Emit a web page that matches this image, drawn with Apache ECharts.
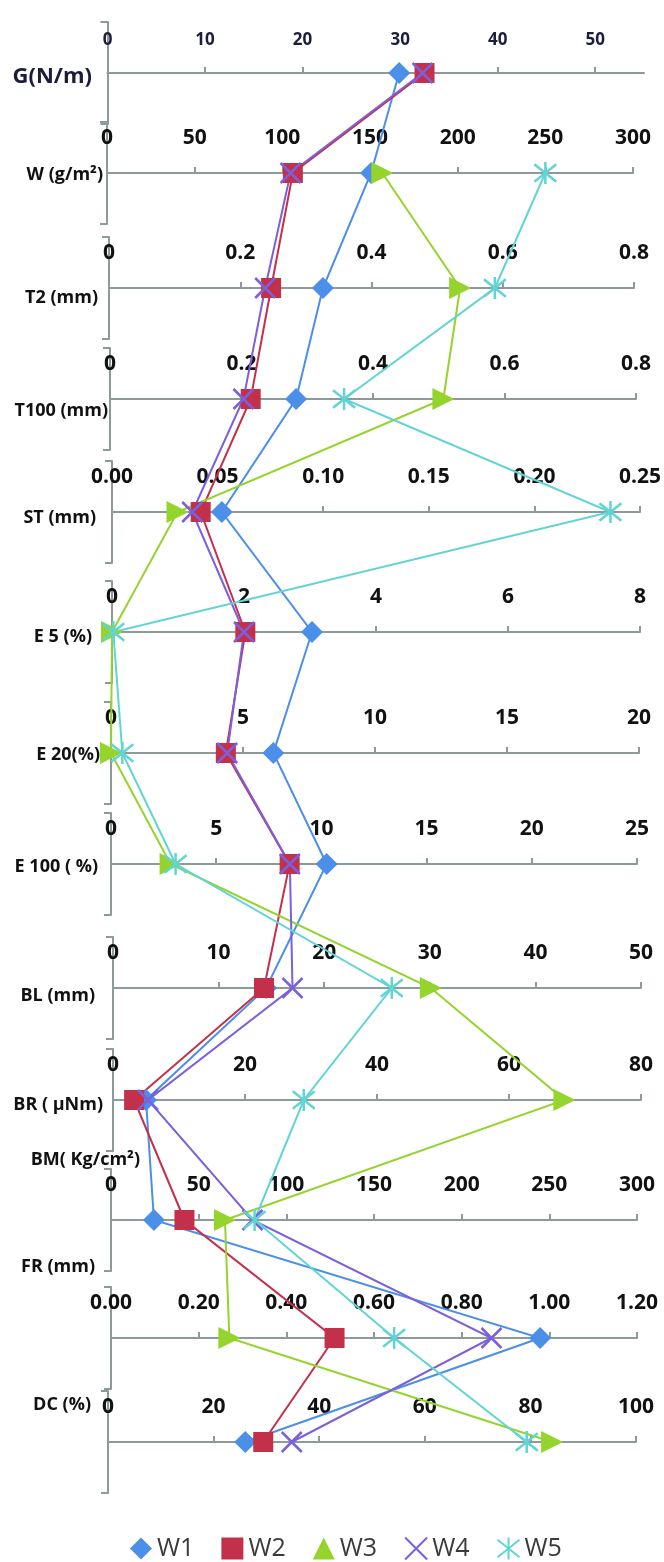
<!DOCTYPE html>
<html><head><meta charset="utf-8">
<script src="https://cdn.jsdelivr.net/npm/echarts@6/dist/echarts.min.js"></script>
<style>html,body{margin:0;padding:0;background:#fff}#c{width:664px;height:1562px}</style>
</head><body><div id="c"></div>
<script>
// ---- data ----
const rowNames = ['G(N/m)','W (g/m²)','T2 (mm)','T100 (mm)','ST (mm)','E 5 (%)','E 20(%)','E 100 ( %)','BL (mm)','BR ( µNm)','BM( Kg/cm²)','FR (mm)','DC (%)'];
const axisMax  = [55, 300, 0.8, 0.8, 0.25, 8, 20, 25, 50, 80, 300, 1.2, 100];
const axisStep = [10, 50, 0.2, 0.2, 0.05, 2, 5, 5, 10, 20, 50, 0.2, 20];
const labelDigits = [0, 0, 1, 1, 2, 0, 0, 0, 0, 0, 0, 2, 0];
const seriesNames = ['W1','W2','W3','W4','W5'];
const W1 = [29.9, 150.6, 0.326, 0.283, 0.052, 3.03, 6.15, 10.25, 14.5, 5.0, 24.5, 0.979, 26.0];
const W2 = [32.5, 106, 0.247, 0.214, 0.042, 2.02, 4.35, 8.49, 14.3, 3.2, 41.9, 0.51, 29.4];
const W3 = [null, 157, 0.535, 0.507, 0.031, 0.0, 0.0, 2.83, 30.1, 68.4, 65, 0.27, 84.1];
const W4 = [32.3, 104.7, 0.238, 0.203, 0.038, 2.0, 4.4, 8.5, 17.0, 5.3, 80.7, 0.868, 34.8];
const W5 = [null, 250, 0.588, 0.356, 0.236, 0.02, 0.43, 3.07, 26.4, 28.9, 81.9, 0.646, 79.3];
const seriesValues = [W1, W2, W3, W4, W5];

// ---- layout & style ----
const rowY   = [73, 173, 288, 399, 512, 632, 753, 864, 988, 1100, 1220, 1338, 1442];
const axisX0 = [107.5, 107, 109, 110, 112, 112, 111, 111, 113, 113, 111, 111, 108];
const axisX1 = [644, 633, 634, 636, 640, 640, 639, 637, 641, 641, 637, 637, 636];
const labelRight = [92, 103, 98, 108, 96, 92, 100, 98, 95, 103, 140, 95, 91];
const labelDy    = [4, 2, 10, 12, 6, 5, 2, 3, 8, 5, -60, -71, -37];
const colors = ['#4b8fe8', '#c3304a', '#94d42c', '#7b5fdc', '#62d4d4'];
const symbols = ['diamond', 'rect', 'triangle', 'path://M0,0L10,10M10,0L0,10', 'path://M5,0L5,10M0,1L10,9M10,1L0,9'];
const symbolSizes = [22, 20, 22, 20, 22];
const symbolRot = [0, 0, -90, 0, 0];
const axisColor = '#8c9a9a';
const FONT = '"Open Sans", "Liberation Sans", sans-serif';
const UP = 51, DOWN = 51;

const chart = echarts.init(document.getElementById('c'), null, {renderer: 'canvas'});
const grids = [], xAxes = [], yAxes = [], series = [];
rowNames.forEach((nm, i) => {
  grids.push({left: axisX0[i], width: axisX1[i] - axisX0[i], top: rowY[i] - UP, height: UP + DOWN,
    containLabel: false, outerBoundsMode: 'none'});
  const ticks = [];
  for (let k = 0; k * axisStep[i] <= axisMax[i] + 1e-9; k++) ticks.push(+(k * axisStep[i]).toFixed(4));
  xAxes.push({
    gridIndex: i, type: 'value', min: 0, max: axisMax[i], interval: axisStep[i], position: 'top', offset: -UP,
    axisLine: {show: true, onZero: false, lineStyle: {color: axisColor, width: 2}},
    axisTick: {show: true, length: 6, customValues: ticks, lineStyle: {color: axisColor, width: 2}},
    axisLabel: {show: true, margin: 24, customValues: ticks, fontFamily: FONT, fontWeight: 'bold',
      fontSize: i === 0 ? 17 : 21, color: i === 0 ? '#1c1c3c' : '#111',
      formatter: v => (i === 2 || i === 3) ? (v === 0 ? '0' : v.toFixed(1)) : v.toFixed(labelDigits[i])},
    splitLine: {show: false}
  });
  yAxes.push({
    gridIndex: i, type: 'value', min: -1, max: 1,
    axisLine: {show: true, onZero: false, lineStyle: {color: axisColor, width: 2}},
    axisTick: {show: true, length: 7, customValues: [-1, 1], lineStyle: {color: axisColor, width: 2}},
    axisLabel: {show: false}, splitLine: {show: false}
  });
});
seriesValues.forEach((vals, s) => {
  vals.forEach((v, i) => {
    if (v === null) return;
    series.push({
      type: 'scatter', name: seriesNames[s], xAxisIndex: i, yAxisIndex: i,
      data: [[v, 0]], symbol: symbols[s], symbolSize: symbolSizes[s], symbolRotate: symbolRot[s],
      clip: false, z: 3 + s, silent: true,
      itemStyle: {color: colors[s], borderColor: colors[s], borderWidth: s >= 3 ? 2.5 : 0, opacity: 1}
    });
  });
});

chart.setOption({
  animation: false,
  backgroundColor: '#fff',
  grid: grids, xAxis: xAxes, yAxis: yAxes, series: series,
  legend: {
    top: 1531, left: 125, itemWidth: 22, itemHeight: 22, itemGap: 27, symbolRotate: 0,
    textStyle: {fontSize: 25, color: '#3a3a3a', fontFamily: FONT},
    data: seriesNames
  }
});

// connecting lines through each row's own axis scale
const graphics = [];
seriesValues.forEach((vals, s) => {
  const pts = [];
  vals.forEach((v, i) => {
    if (v === null) return;
    pts.push(chart.convertToPixel({xAxisIndex: i, yAxisIndex: i}, [v, 0]));
  });
  graphics.push({type: 'polyline', z: 1, silent: true, shape: {points: pts},
    style: {stroke: colors[s], lineWidth: 2, fill: null}});
});
rowNames.forEach((nm, i) => {
  graphics.push({type: 'text', z: 5, silent: true, style: {
    text: nm, x: labelRight[i], y: rowY[i] + labelDy[i], align: 'right', verticalAlign: 'middle',
    textAlign: 'right', textVerticalAlign: 'middle', fill: i === 0 ? '#1c1c3c' : '#111',
    font: 'bold ' + (i === 0 ? 22 : 18) + 'px ' + FONT}});
});
chart.setOption({graphic: graphics});
</script></body></html>
